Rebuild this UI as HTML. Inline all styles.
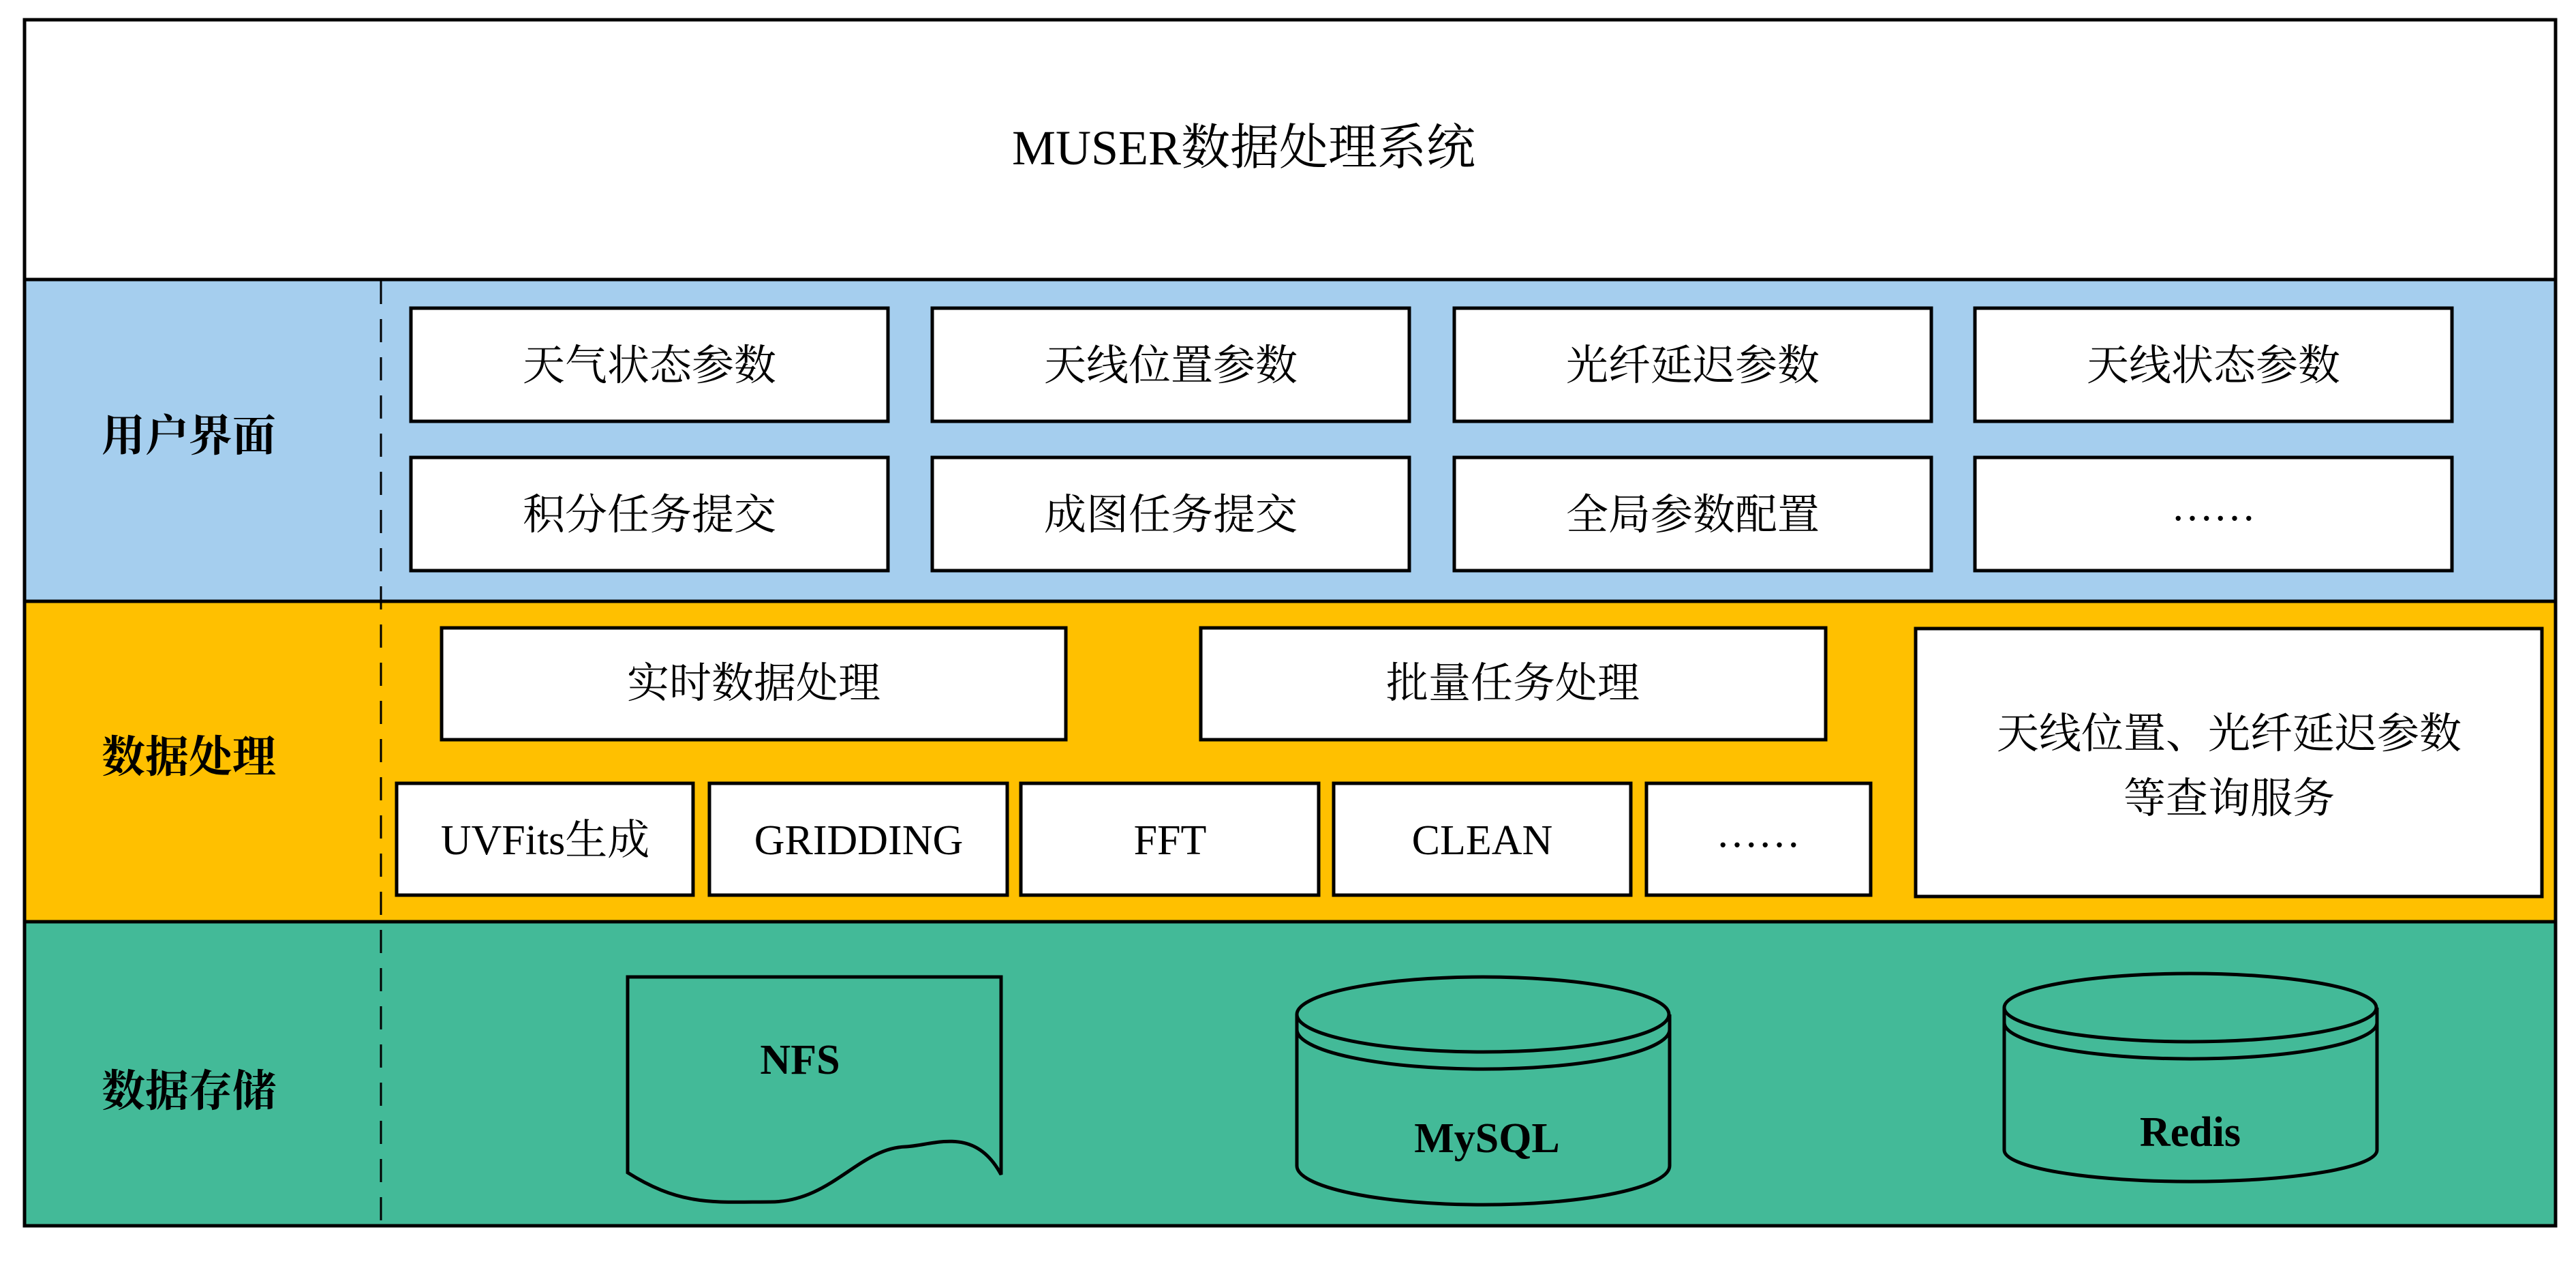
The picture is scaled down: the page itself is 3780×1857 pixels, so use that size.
<!DOCTYPE html>
<html><head><meta charset="utf-8"><style>
html,body{margin:0;padding:0;background:#fff;}
svg{display:block;}
text{font-family:"Liberation Serif","Noto Serif CJK SC",serif;fill:#000;}
.t{font-size:62px;}
.lab{font-size:64px;font-weight:bold;}
.b{font-size:62px;font-weight:bold;}
</style></head><body>
<svg width="3780" height="1857" viewBox="0 0 3780 1857" xmlns="http://www.w3.org/2000/svg">
<rect x="0" y="0" width="3780" height="1857" fill="#fff"/>
<!-- bands -->
<rect x="36" y="29" width="3714" height="381" fill="#fff"/>
<rect x="36" y="410" width="3714" height="472" fill="#A5CEEE"/>
<rect x="36" y="882" width="3714" height="470" fill="#FFC000"/>
<rect x="36" y="1352" width="3714" height="446" fill="#43BA98"/>
<g stroke="#000" stroke-width="5" fill="none">
<rect x="36" y="29" width="3714" height="1769"/>
<line x1="36" y1="410" x2="3750" y2="410"/>
<line x1="36" y1="882" x2="3750" y2="882"/>
<line x1="36" y1="1352" x2="3750" y2="1352"/>
</g>
<line x1="559" y1="412" x2="559" y2="1796" stroke="#000" stroke-width="3" stroke-dasharray="34 22"/>
<text x="1825" y="217" font-size="72" text-anchor="middle" dominant-baseline="central">MUSER数据处理系统</text>
<text class="lab" x="277" y="640" text-anchor="middle" dominant-baseline="central">用户界面</text>
<text class="lab" x="277" y="1111" text-anchor="middle" dominant-baseline="central">数据处理</text>
<text class="lab" x="277" y="1601" text-anchor="middle" dominant-baseline="central">数据存储</text>
<!-- blue boxes -->
<g fill="#fff" stroke="#000" stroke-width="5">
<rect x="603" y="452" width="700" height="166"/>
<rect x="1368" y="452" width="700" height="166"/>
<rect x="2134" y="452" width="700" height="166"/>
<rect x="2898" y="452" width="700" height="166"/>
<rect x="603" y="671" width="700" height="166"/>
<rect x="1368" y="671" width="700" height="166"/>
<rect x="2134" y="671" width="700" height="166"/>
<rect x="2898" y="671" width="700" height="166"/>
<!-- yellow -->
<rect x="648" y="921" width="916" height="164"/>
<rect x="1762" y="921" width="917" height="164"/>
<rect x="2811" y="922" width="919" height="393"/>
<rect x="582" y="1149" width="435" height="164"/>
<rect x="1041" y="1149" width="437" height="164"/>
<rect x="1498" y="1149" width="437" height="164"/>
<rect x="1957" y="1149" width="436" height="164"/>
<rect x="2416" y="1149" width="329" height="164"/>
</g>
<g class="t" text-anchor="middle" dominant-baseline="central">
<text class="t" x="953" y="537">天气状态参数</text>
<text class="t" x="1718" y="537">天线位置参数</text>
<text class="t" x="2484" y="537">光纤延迟参数</text>
<text class="t" x="3248" y="537">天线状态参数</text>
<text class="t" x="953" y="756">积分任务提交</text>
<text class="t" x="1718" y="756">成图任务提交</text>
<text class="t" x="2484" y="756">全局参数配置</text>
<text class="t" x="3248" y="743">……</text>
<text class="t" x="1106" y="1003">实时数据处理</text>
<text class="t" x="2220" y="1003">批量任务处理</text>
<text class="t" x="3271" y="1077">天线位置、光纤延迟参数</text>
<text class="t" x="3271" y="1172">等查询服务</text>
<text class="t" x="800" y="1233">UVFits生成</text>
<text class="t" x="1260" y="1233">GRIDDING</text>
<text class="t" x="1717" y="1233">FFT</text>
<text class="t" x="2175" y="1233">CLEAN</text>
<text class="t" x="2580" y="1222">……</text>
</g>
<!-- storage -->
<g fill="#43BA98" stroke="#000" stroke-width="5">
<path d="M921,1433 L1469,1433 L1469,1723 C1430,1650 1370,1680 1329,1682 C1260,1684 1220,1763 1130,1763 C1050,1763 1000,1770 921,1720 Z"/>
<path d="M1903,1488 L1903,1710 A273,57 0 0 0 2450,1710 L2450,1488"/>
<ellipse cx="2176" cy="1488" rx="273" ry="55"/>
<path d="M1903,1510 A273,58 0 0 0 2450,1510" fill="none"/>
<path d="M2941,1478 L2941,1687 A273,46 0 0 0 3488,1687 L3488,1478"/>
<ellipse cx="3214" cy="1478" rx="273" ry="50"/>
<path d="M2941,1500 A273,53 0 0 0 3488,1500" fill="none"/>
</g>
<text class="b" x="1174" y="1555" text-anchor="middle" dominant-baseline="central">NFS</text>
<text class="b" x="2182" y="1670" text-anchor="middle" dominant-baseline="central">MySQL</text>
<text class="b" x="3214" y="1661" text-anchor="middle" dominant-baseline="central">Redis</text>
</svg>
</body></html>
